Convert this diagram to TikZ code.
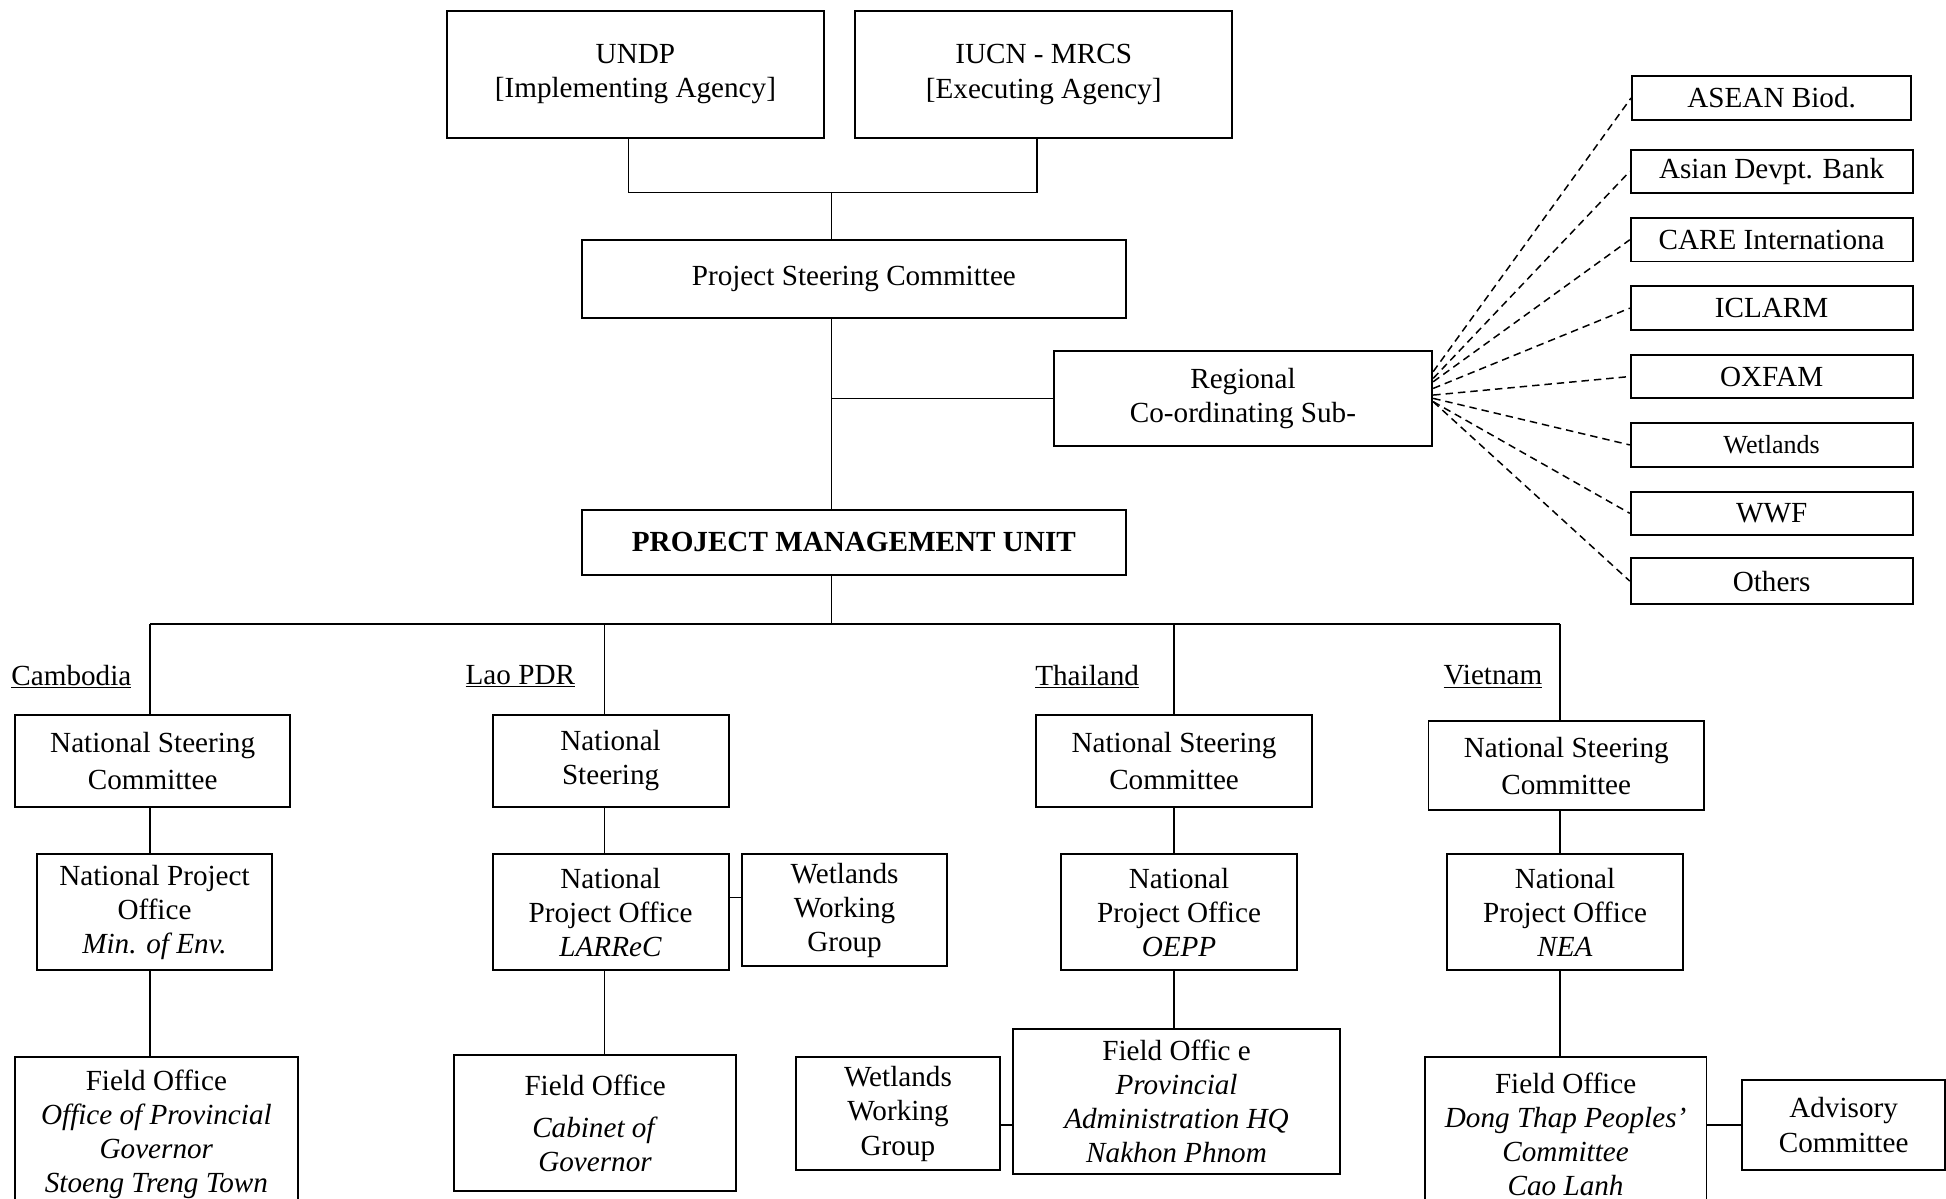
\documentclass[tikz,border=0pt]{standalone}
\usepackage{fontspec}
\setmainfont{Liberation Serif}
\usetikzlibrary{positioning}

\begin{document}
\begin{tikzpicture}[x=1pt,y=-1pt,
    font=\fontsize{23.5pt}{27.5pt}\selectfont,
    box/.style={draw,line width=1.6pt,inner sep=0pt,align=center},
    member/.style={box,minimum width=227pt,minimum height=35pt},
    link/.style={line width=1.3pt},
    feed/.style={line width=1.2pt,dash pattern=on 6pt off 4pt},
    country/.style={anchor=west,inner sep=0pt}]
  \fill[white] (0,0) rectangle (1568,966);
  \useasboundingbox (0,0) rectangle (1568,966);
  \clip (0,0) rectangle (1568,966);

  % top of the project
  \node[box,minimum width=304pt,minimum height=102pt] (undp) at (512,60) {UNDP\\{[Implementing Agency]}};
  \node[box,minimum width=304pt,minimum height=102pt] (iucn) at (841,60) {IUCN - MRCS\\{[Executing Agency]}};
  \node[box,minimum width=438pt,minimum height=63pt] (psc) at (688,224.5) {Project Steering Committee};
  \node[box,minimum width=305pt,minimum height=76pt] (reg) at (1001.5,321) {Regional\\Co-ordinating Sub-};
  \node[box,minimum width=438pt,minimum height=52pt] (pmu) at (688,437) {\textbf{PROJECT MANAGEMENT UNIT}};

  % partners of the regional sub-committee
  \node[member,minimum width=225pt,minimum height=36pt] (asean) at (1427.5,79) {ASEAN Biod.};
  \node[member,below=22pt of asean] (adb) {Asian Devpt. Bank};
  \node[member,below=18.5pt of adb] (care) {CARE Internationa};
  \node[member,below=18.5pt of care] (iclarm) {ICLARM};
  \node[member,below=18.5pt of iclarm] (oxfam) {OXFAM};
  \node[member,below=18.5pt of oxfam] (wetl) {\fontsize{21pt}{25pt}\selectfont Wetlands};
  \node[member,below=18.5pt of wetl] (wwf) {WWF};
  \node[member,minimum height=37pt,below=17pt of wwf] (oth) {Others};

  \coordinate (join) at (670,155);
  \coordinate (bar) at (670,503);
  \draw[link] (undp.-96) |- (join) -| (iucn.-96);
  \draw[link] (join) -- (join |- psc.north);
  \draw[link] (join |- psc.south) -- (join |- pmu.north);
  \draw[link] (join |- reg.west) -- (reg.west);
  \draw[link] (join |- pmu.south) -- (bar);

  \draw[feed] (reg.8) -- (asean.west);
  \draw[feed] (reg.6) -- (adb.west);
  \draw[feed] (reg.5) -- (care.west);
  \draw[feed] (reg.3) -- (iclarm.west);
  \draw[feed] (reg.1) -- (oxfam.west);
  \draw[feed] (reg.0) -- (wetl.west);
  \draw[feed] (reg.-1) -- (wwf.west);
  \draw[feed] (reg.-1) -- (oth.west);

  % countries
  \node[country] (camlbl) at (9,545) {\underline{Cambodia}};
  \node[country] (laolbl) at (375,545) {\underline{Lao PDR}};
  \node[country] (thalbl) at (834,545) {\underline{Thailand}};
  \node[country] (vielbl) at (1163,545) {\underline{Vietnam}};
  \coordinate (ccol) at (121,503);
  \coordinate (lcol) at (487,503);
  \coordinate (tcol) at (946,503);
  \coordinate (vcol) at (1257,503);
  \draw[link] (ccol) -- (vcol);

  \node[box,minimum width=222pt,minimum height=74pt] (cnsc) at (123,613) {National Steering\\[2.5pt]Committee};
  \node[box,minimum width=189pt,minimum height=93pt] (cnpo) at (124.5,735) {National Project\\Office\\\textit{Min. of Env.}};
  \node[box,minimum width=228pt,minimum height=124pt] (cfo) at (126,914) {Field Office\\\textit{Office of Provincial}\\\textit{Governor}\\\textit{Stoeng Treng Town}};

  \node[box,minimum width=190pt,minimum height=74pt] (lnsc) at (492,613) {National\\Steering};
  \node[box,minimum width=190pt,minimum height=93pt] (lnpo) at (492,735) {National\\Project Office\\\textit{LARReC}};
  \node[box,minimum width=165pt,minimum height=90pt] (lwwg) at (680.5,733.5) {Wetlands\\Working\\Group};
  \node[box,minimum width=227pt,minimum height=110pt] (lfo) at (479.5,905) {Field Office\\[6pt]\textit{Cabinet of}\\\textit{Governor}};

  \node[box,minimum width=222pt,minimum height=74pt] (tnsc) at (946,613) {National Steering\\[2.5pt]Committee};
  \node[box,minimum width=190pt,minimum height=93pt] (tnpo) at (950,735) {National\\Project Office\\\textit{OEPP}};
  \node[box,minimum width=264pt,minimum height=117pt] (tfo) at (948,887.5) {Field Offic e\\\textit{Provincial}\\\textit{Administration HQ}\\\textit{Nakhon Phnom}};
  \node[box,minimum width=165pt,minimum height=91pt] (twwg) at (723.5,897.5) {Wetlands\\Working\\Group};

  \node[box,minimum width=222pt,minimum height=72pt] (vnsc) at (1262,617) {National Steering\\[2.5pt]Committee};
  \node[box,minimum width=190pt,minimum height=93pt] (vnpo) at (1261,735) {National\\Project Office\\\textit{NEA}};
  \node[box,minimum width=227pt,minimum height=124pt] (vfo) at (1261.5,914) {Field Office\\\textit{Dong Thap Peoples'}\\\textit{Committee}\\\textit{Cao Lanh}};
  \node[box,minimum width=163pt,minimum height=73pt] (vadv) at (1485.5,906.5) {Advisory\\Committee};

  \draw[link] (ccol) -- (ccol |- cnsc.north) (ccol |- cnsc.south) -- (ccol |- cnpo.north) (ccol |- cnpo.south) -- (ccol |- cfo.north);
  \draw[link] (lcol) -- (lcol |- lnsc.north) (lcol |- lnsc.south) -- (lcol |- lnpo.north) (lcol |- lnpo.south) -- (lcol |- lfo.north);
  \draw[link] (tcol) -- (tcol |- tnsc.north) (tcol |- tnsc.south) -- (tcol |- tnpo.north) (tcol |- tnpo.south) -- (tcol |- tfo.north);
  \draw[link] (vcol) -- (vcol |- vnsc.north) (vcol |- vnsc.south) -- (vcol |- vnpo.north) (vcol |- vnpo.south) -- (vcol |- vfo.north);
  \draw[link] (lnpo.7) -- (lnpo.7 -| lwwg.west);
  \draw[link] (twwg.-6) -- (twwg.-6 -| tfo.west);
  \draw[link] (vadv.west) -- (vadv.west -| vfo.east);
\end{tikzpicture}
\end{document}
